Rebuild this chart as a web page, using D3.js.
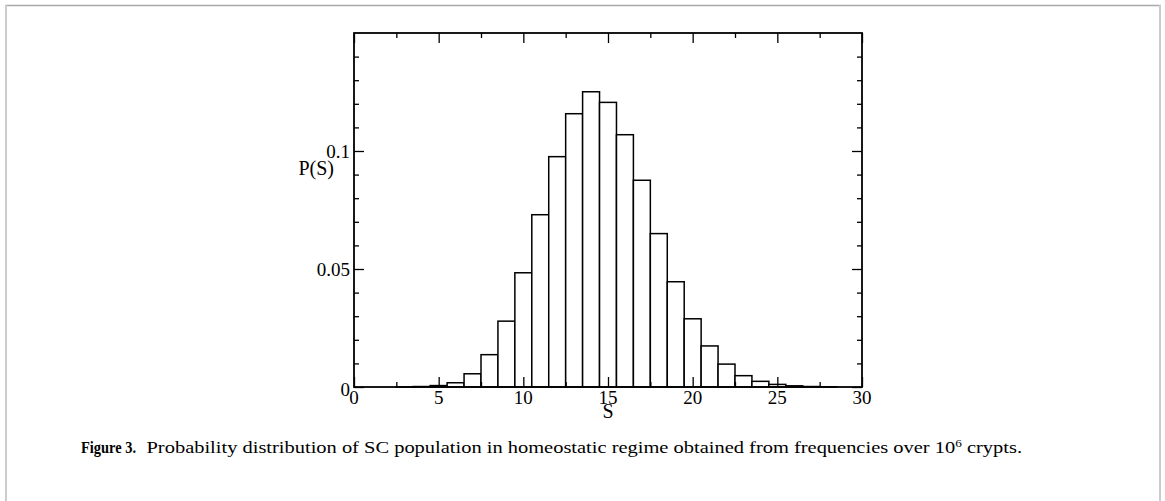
<!DOCTYPE html>
<html>
<head>
<meta charset="utf-8">
<script src="https://cdn.jsdelivr.net/npm/d3@7"></script>
<style>
  html, body { margin: 0; padding: 0; background: #fff; }
  svg { display: block; }
  text { font-family: "Liberation Serif", "DejaVu Serif", serif; fill: #000; }
</style>
</head>
<body>
<svg id="chart" width="1165" height="501"></svg>
<script>
// ---- data ----
const sValues = [1,2,3,4,5,6,7,8,9,10,11,12,13,14,15,16,17,18,19,20,21,22,23,24,25,26,27,28];
const pValues = [0, 0, 0.00005, 0.0002, 0.0006, 0.0018, 0.0056, 0.0137, 0.0279, 0.0484, 0.0730, 0.0976,
                 0.1158, 0.1251, 0.1206, 0.1069, 0.0876, 0.0650, 0.0446, 0.0289, 0.0174, 0.0097,
                 0.0048, 0.0024, 0.0011, 0.0005, 0.0002, 0.0001];
const xMajorTicks = [0, 5, 10, 15, 20, 25, 30];
const xMinorTicks = [2.5, 7.5, 12.5, 17.5, 22.5, 27.5];
const yMajorTicks = [0, 0.05, 0.1];
const yMinorTicks = [0.01, 0.02, 0.03, 0.04, 0.06, 0.07, 0.08, 0.09, 0.11, 0.12, 0.13, 0.14];
const yTickLabels = ["0", "0.05", "0.1"];
const xLabel = "S";
const yLabel = "P(S)";
const captionBold = "Figure 3.";
const captionText = "Probability distribution of SC population in homeostatic regime obtained from frequencies over 10";
const captionSup = "6";
const captionEnd = " crypts.";

// ---- layout ----
const svg = d3.select("#chart");
const L = 354, R = 862, T = 33, B = 387;
const x = d3.scaleLinear().domain([0, 30]).range([L, R]);
const y = d3.scaleLinear().domain([0, 0.15]).range([B, T]);

// frame
svg.append("line").attr("x1", 5).attr("x2", 1161).attr("y1", 5.5).attr("y2", 5.5)
  .attr("stroke", "#a8a8a8").attr("stroke-width", 1.5);
svg.append("rect").attr("x", 5).attr("y", 5).attr("width", 2).attr("height", 496).attr("fill", "#cccccc");
svg.append("rect").attr("x", 1159).attr("y", 5).attr("width", 2).attr("height", 496).attr("fill", "#cccccc");

// bars
const bw = x(1) - x(0);
svg.append("g").selectAll("rect").data(sValues).join("rect")
  .attr("x", (d) => x(d - 0.5))
  .attr("y", (d, i) => y(pValues[i]))
  .attr("width", bw)
  .attr("height", (d, i) => B - y(pValues[i]))
  .attr("fill", "#fff")
  .attr("stroke", "#000")
  .attr("stroke-width", 1.5);

// axes (ticks inward on all four sides)
const tickStroke = 1.3;
function axisTicks(axisGen, transform) {
  const g = svg.append("g").attr("transform", transform).call(axisGen);
  g.select(".domain").remove();
  g.selectAll(".tick line").attr("stroke", "#000").attr("stroke-width", tickStroke);
  g.selectAll("text").remove();
  return g;
}
axisTicks(d3.axisBottom(x).tickValues(xMajorTicks).tickSize(-10), `translate(0,${B})`);
axisTicks(d3.axisBottom(x).tickValues(xMinorTicks).tickSize(-5), `translate(0,${B})`);
axisTicks(d3.axisTop(x).tickValues(xMajorTicks).tickSize(-10), `translate(0,${T})`);
axisTicks(d3.axisTop(x).tickValues(xMinorTicks).tickSize(-5), `translate(0,${T})`);
axisTicks(d3.axisLeft(y).tickValues(yMajorTicks).tickSize(-10), `translate(${L},0)`);
axisTicks(d3.axisLeft(y).tickValues(yMinorTicks).tickSize(-5), `translate(${L},0)`);
axisTicks(d3.axisRight(y).tickValues(yMajorTicks).tickSize(-10), `translate(${R},0)`);
axisTicks(d3.axisRight(y).tickValues(yMinorTicks).tickSize(-5), `translate(${R},0)`);

// plot frame
svg.append("rect").attr("x", L).attr("y", T).attr("width", R - L).attr("height", B - T)
  .attr("fill", "none").attr("stroke", "#000").attr("stroke-width", 1.8);

// tick labels
svg.append("g").selectAll("text").data(xMajorTicks).join("text")
  .attr("x", (d) => x(d)).attr("y", 404)
  .attr("text-anchor", "middle").attr("font-size", 19)
  .text((d) => d);
svg.append("g").selectAll("text").data(yMajorTicks).join("text")
  .attr("x", 350).attr("y", (d, i) => y(d) + 7 + (i === 0 ? 2 : 0))
  .attr("text-anchor", "end").attr("font-size", 19)
  .text((d, i) => yTickLabels[i]);

// axis labels
svg.append("text").attr("x", (L + R) / 2).attr("y", 418).attr("text-anchor", "middle")
  .attr("font-size", 20).text(xLabel);
svg.append("text").attr("x", 334).attr("y", 175).attr("text-anchor", "end")
  .attr("font-size", 20).text(yLabel);

// caption (widths matched to the reference's wider typeface)
svg.append("text").attr("x", 81).attr("y", 453).attr("font-size", 16)
  .attr("font-weight", "bold")
  .attr("textLength", 55).attr("lengthAdjust", "spacingAndGlyphs")
  .text(captionBold);
const cap = svg.append("text").attr("x", 146.5).attr("y", 453).attr("font-size", 17)
  .attr("textLength", 875.5).attr("lengthAdjust", "spacingAndGlyphs");
cap.append("tspan").text(captionText);
cap.append("tspan").attr("dy", -6).attr("font-size", 11).text(captionSup);
cap.append("tspan").attr("dy", 6).text(captionEnd);
</script>
</body>
</html>
